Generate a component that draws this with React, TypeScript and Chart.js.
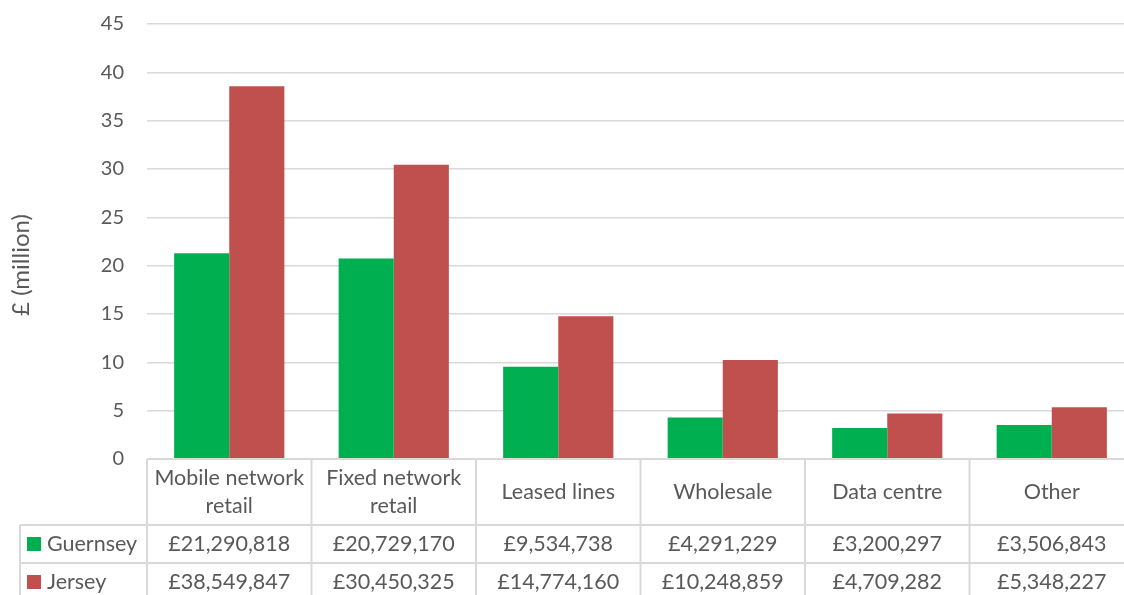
import React, { useEffect, useRef } from "react";
import { Chart, registerables } from "chart.js";

Chart.register(...registerables);

const categories: string[][] = [
  ["Mobile network", "retail"],
  ["Fixed network", "retail"],
  ["Leased lines"],
  ["Wholesale"],
  ["Data centre"],
  ["Other"],
];
const seriesNames = ["Guernsey", "Jersey"];
const guernsey = [21290818, 20729170, 9534738, 4291229, 3200297, 3506843];
const jersey = [38549847, 30450325, 14774160, 10248859, 4709282, 5348227];
const seriesColors = ["#00B050", "#C0504D"];
const axisTitle = "£ (million)";
const yMin = 0;
const yMax = 45;
const yStep = 5;

const W = 1140;
const H = 601;
const FONT = "Lato, 'Open Sans', sans-serif";
const TEXT = "#595959";
const LINE = "#d9d9d9";

const fmt = (v: number) => "£" + v.toLocaleString("en-GB");

const tablePlugin = {
  id: "dataTable",
  afterDraw(chart: any) {
    const ctx = chart.ctx as CanvasRenderingContext2D;
    const xs = chart.scales.x;
    const area = chart.chartArea;
    const n = categories.length;
    const colW = (area.right - area.left) / n;
    const top = area.bottom;
    const headerH = 66;
    const rowH = 38;
    const leftX = 20;
    const bottom = top + headerH + rowH * 2;
    ctx.save();
    ctx.strokeStyle = LINE;
    ctx.lineWidth = 2;
    const line = (x1: number, y1: number, x2: number, y2: number) => {
      ctx.beginPath();
      ctx.moveTo(x1, y1);
      ctx.lineTo(x2, y2);
      ctx.stroke();
    };
    line(area.left, top, W, top);
    line(leftX, top + headerH, W, top + headerH);
    line(leftX, top + headerH + rowH, W, top + headerH + rowH);
    line(leftX, bottom, W, bottom);
    line(leftX, top + headerH, leftX, bottom);
    for (let i = 0; i <= n; i++) {
      const c = i < n ? xs.getPixelForValue(i) - colW / 2 : xs.getPixelForValue(n - 1) + colW / 2;
      line(c, top, c, bottom);
    }
    ctx.fillStyle = TEXT;
    ctx.font = `21.5px ${FONT}`;
    ctx.textAlign = "center";
    ctx.textBaseline = "middle";
    categories.forEach((lines, i) => {
      const cx = xs.getPixelForValue(i);
      if (lines.length === 1) {
        ctx.fillText(lines[0], cx, top + 33);
      } else {
        ctx.fillText(lines[0], cx, top + 19);
        ctx.fillText(lines[1], cx, top + 47);
      }
    });
    const rows = [guernsey, jersey];
    rows.forEach((vals, r) => {
      const cy = top + headerH + rowH * r + rowH / 2;
      ctx.fillStyle = seriesColors[r];
      ctx.fillRect(27, cy - 7, 14, 14);
      ctx.fillStyle = TEXT;
      ctx.textAlign = "left";
      ctx.fillText(seriesNames[r], 47, cy);
      ctx.textAlign = "center";
      vals.forEach((v, i) => {
        ctx.fillText(fmt(v), xs.getPixelForValue(i), cy);
      });
    });
    // axis title
    ctx.save();
    ctx.font = `24px ${FONT}`;
    ctx.translate(21, 265);
    ctx.rotate(-Math.PI / 2);
    ctx.textAlign = "center";
    ctx.fillText(axisTitle, 0, 0);
    ctx.restore();
    ctx.restore();
  },
};

export default function App() {
  const ref = useRef<HTMLCanvasElement>(null);
  useEffect(() => {
    if (!ref.current) return;
    const chart = new Chart(ref.current, {
      type: "bar",
      data: {
        labels: categories.map((c) => c.join(" ")),
        datasets: [
          { label: seriesNames[0], data: guernsey.map((v) => v / 1e6), backgroundColor: seriesColors[0] },
          { label: seriesNames[1], data: jersey.map((v) => v / 1e6), backgroundColor: seriesColors[1] },
        ],
      },
      options: {
        responsive: false,
        animation: false,
        devicePixelRatio: 1,
        layout: { padding: { left: 0, top: 24, right: W - 1134, bottom: H - 459 } },
        plugins: { legend: { display: false }, tooltip: { enabled: false }, title: { display: false } },
        datasets: { bar: { categoryPercentage: 0.67, barPercentage: 1 } },
        scales: {
          x: { display: false },
          y: {
            min: yMin,
            max: yMax,
            ticks: { stepSize: yStep, color: TEXT, font: { family: FONT, size: 20 }, padding: 0 },
            grid: { color: LINE, lineWidth: 1.5, drawTicks: true, tickLength: 23, tickColor: "rgba(0,0,0,0)" },
            border: { display: false },
            afterFit(s: any) {
              s.width = 147;
            },
          },
        },
      },
      plugins: [tablePlugin],
    });
    return () => chart.destroy();
  }, []);
  return (
    <div style={{ position: "fixed", left: 0, top: 0, width: 1124, height: 595, overflow: "hidden", background: "#fff" }}>
      <canvas ref={ref} width={W} height={H} style={{ width: W, height: H, display: "block" }} />
    </div>
  );
}
